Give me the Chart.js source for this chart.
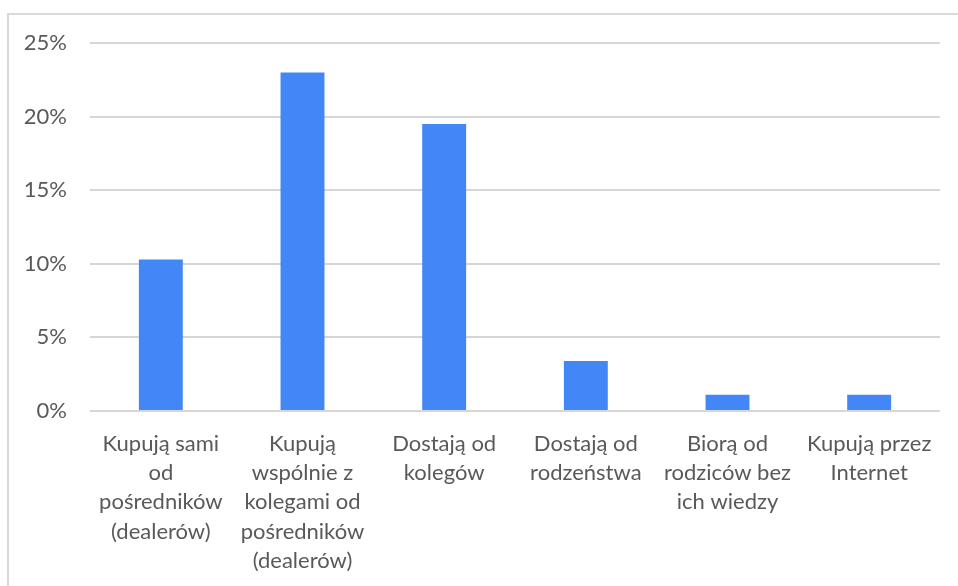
<!DOCTYPE html>
<html>
<head>
<meta charset="utf-8">
<script src="https://cdn.jsdelivr.net/npm/chart.js@4/dist/chart.umd.min.js"></script>
<style>
  html, body { margin: 0; padding: 0; background: #fff; overflow: hidden; }
  #wrap { position: relative; width: 958px; height: 586px; }
  #frame { position: absolute; left: 7px; top: 13px; width: 1000px; height: 700px;
           border-top: 2px solid #d9d9d9; border-left: 2px solid #d9d9d9; pointer-events: none; }
  canvas { position: absolute; left: 0; top: 0; }
</style>
</head>
<body>
<div id="wrap">
  <div id="frame"></div>
  <canvas id="c" width="958" height="586"></canvas>
</div>
<script>
const categories = [
  ["Kupują sami", "od", "pośredników", "(dealerów)"],
  ["Kupują", "wspólnie z", "kolegami od", "pośredników", "(dealerów)"],
  ["Dostają od", "kolegów"],
  ["Dostają od", "rodzeństwa"],
  ["Biorą od", "rodziców bez", "ich wiedzy"],
  ["Kupują przez", "Internet"]
];
const values = [10.3, 23.0, 19.5, 3.4, 1.1, 1.1];
const yTicks = [0, 5, 10, 15, 20, 25];

const textColor = "#595959";
const font = { family: "Lato, 'Open Sans', sans-serif", size: 22 };

new Chart(document.getElementById("c"), {
  type: "bar",
  data: {
    labels: categories,
    datasets: [{
      data: values,
      backgroundColor: "#4287f5",
      borderWidth: 0,
      categoryPercentage: 1.0,
      barPercentage: 0.31
    }]
  },
  options: {
    responsive: false,
    animation: false,
    layout: { padding: { top: 43, right: 18, left: 0, bottom: 0 } },
    plugins: { legend: { display: false }, tooltip: { enabled: false } },
    scales: {
      x: {
        grid: { display: false },
        border: { display: false },
        ticks: { color: textColor, font: { ...font, lineHeight: 1.33 }, padding: 10, maxRotation: 0, autoSkip: false },
        afterFit: s => { s.height = 175; }
      },
      y: {
        min: 0, max: 25,
        afterBuildTicks: s => { s.ticks = yTicks.map(v => ({ value: v })); },
        grid: { color: "#d6d6d6", lineWidth: 2, drawTicks: false },
        border: { display: false },
        ticks: { color: textColor, font: font, padding: 23, callback: v => v + "%" },
        afterFit: s => { s.width = 90; }
      }
    }
  }
});
</script>
</body>
</html>
